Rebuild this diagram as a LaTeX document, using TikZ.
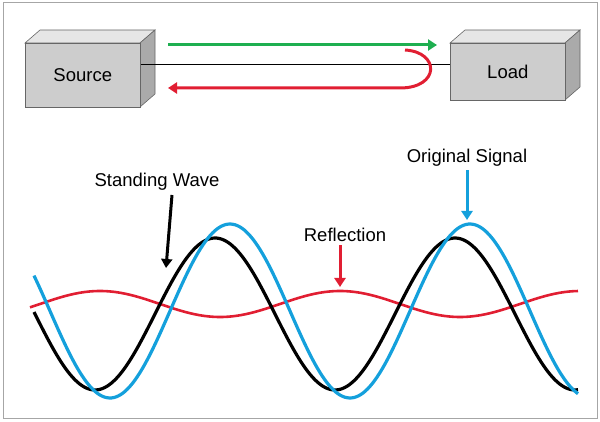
\documentclass[tikz,border=0pt]{standalone}
\usepackage{fontspec}
\setmainfont{Liberation Sans}
\usetikzlibrary{arrows.meta}
\definecolor{wblue}{RGB}{20,160,220}
\definecolor{wred}{RGB}{225,30,50}
\definecolor{wgreen}{RGB}{30,175,80}
\definecolor{boxf}{RGB}{205,205,205}
\definecolor{boxt}{RGB}{230,230,230}
\definecolor{boxs}{RGB}{170,170,170}
\begin{document}
\begin{tikzpicture}[x=1pt,y=-1pt,
  lab/.style={font=\fontsize{18.5}{20}\selectfont},
  face/.style={draw=black!60,line width=0.6pt},
  ar/.style={line width=3pt,-{Triangle[length=9pt,width=11pt]}},
  wave/.style={line width=3.2pt,smooth,samples=120}]
\useasboundingbox (0,0) rectangle (600,422);
\draw[black!35,line width=1pt] (3,3) rectangle (597,418);
% boxes
\newcommand{\cube}[5]{% x1,y1,x2,y2,name
  \fill[boxt,face] (#1,#2) -- ++(15,-13) -- (#3+15,#2-13) -- (#3,#2) -- cycle;
  \fill[boxs,face] (#3,#2) -- (#3+15,#2-13) -- (#3+15,#4-13) -- (#3,#4) -- cycle;
  \node[face,fill=boxf,minimum width=#3pt-#1pt,minimum height=#4pt-#2pt,anchor=north west,inner sep=0pt] (#5) at (#1,#2) {};}
\cube{25}{43}{140}{107}{src}
\cube{450}{43}{565}{100}{ld}
\node[lab] at (src.center) {Source};
\node[lab] at (ld.center) {Load};
\draw[line width=1pt] (src.east |- 0,65) -- (ld.west |- 0,65);
\coordinate (g1) at (168,45); \coordinate (g2) at (437,45);
\draw[ar,wgreen] (g1) -- (g2);
\coordinate (r1) at (405,50); \coordinate (r2) at (168,88);
\draw[ar,wred] (r1) .. controls (440,52) and (440,88) .. (400,88) -- (r2);
% waves
\draw[wave,wred,line width=2.6pt,domain=30:578] plot (\x,{304-13*cos(1.5*(\x-340))});
\draw[wave,black,domain=34:578] plot (\x,{314-76*cos(1.5*(\x-215))});
\draw[wave,wblue,domain=34:578] plot (\x,{311-87*cos(1.5*(\x-230))});
% labels
\node[lab] (sw) at (157,182) {Standing Wave};
\coordinate (swt) at (166,268);
\draw[ar,black] (172,195) -- (swt);
\node[lab] (rf) at (345,235) {Reflection};
\coordinate (rft) at (340,287);
\draw[ar,wred] (rf.south -| rft) -- (rft);
\node[lab] (os) at (467,158) {Original Signal};
\coordinate (ost) at (467,220);
\draw[ar,wblue] (os.south -| ost) -- (ost);
\end{tikzpicture}
\end{document}
